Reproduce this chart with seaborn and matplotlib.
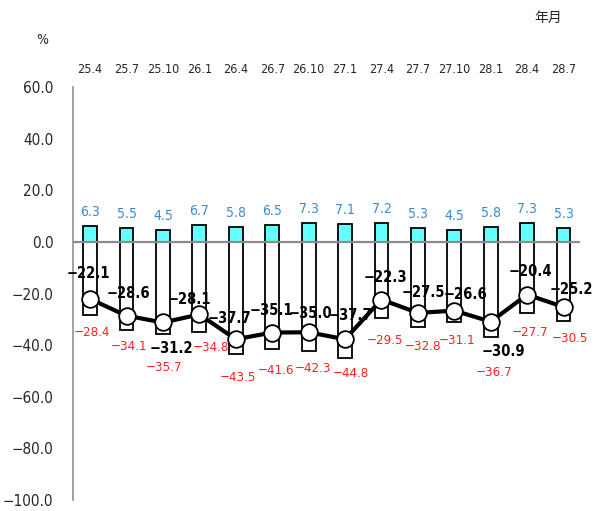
import numpy as np
import pandas as pd
import matplotlib
matplotlib.use('Agg')
import matplotlib.pyplot as plt
import seaborn as sns

# data
periods = ['25.4', '25.7', '25.10', '26.1', '26.4', '26.7', '26.10', '27.1',
           '27.4', '27.7', '27.10', '28.1', '28.4', '28.7']
plus = [6.3, 5.5, 4.5, 6.7, 5.8, 6.5, 7.3, 7.1, 7.2, 5.3, 4.5, 5.8, 7.3, 5.3]
minus = [-28.4, -34.1, -35.7, -34.8, -43.5, -41.6, -42.3, -44.8,
         -29.5, -32.8, -31.1, -36.7, -27.7, -30.5]
net = [-22.1, -28.6, -31.2, -28.1, -37.7, -35.1, -35.0, -37.7,
       -22.3, -27.5, -26.6, -30.9, -20.4, -25.2]
y_ticks = [60, 40, 20, 0, -20, -40, -60, -80, -100]

# label offsets in pixels (dx, dy), dy positive = up
net_off = [(-2, 25), (2, 22), (8, -26), (-10, 15), (-6, 21), (-1, 22), (2, 19),
           (5, 24), (4, 22), (5, 20), (11, 16), (13, -30), (3, 23), (8, 17)]
minus_off = [(2, -17), (2, -17), (1, -33), (12, -16), (2, -23), (4, -21), (4, -17),
             (6, -16), (4, -22), (5, -20), (3, -18), (3, -36), (3, -19), (6, -18)]

df = pd.DataFrame({'period': periods, 'plus': plus, 'minus': minus, 'net': net})
x = np.arange(len(periods))

sns.set_style('white')
plt.rcParams['font.family'] = ['DejaVu Sans', 'Noto Sans CJK JP']
plt.rcParams['font.stretch'] = 'condensed'

fig = plt.figure(figsize=(5.95, 5.11), dpi=100)
ax = fig.add_axes([0.1227, 0.0215, 0.852, 0.808])

sns.barplot(data=df, x='period', y='minus', color='white', edgecolor='black',
            linewidth=1.3, width=0.38, saturation=1, ax=ax, zorder=2)
sns.barplot(data=df, x='period', y='plus', color='#66FFFF', edgecolor='black',
            linewidth=1.3, width=0.38, saturation=1, ax=ax, zorder=2)
ax.axhline(0, color='#8c8c8c', lw=1.6, zorder=3)
ax.plot(x, df['net'], color='black', lw=3, marker='o', ms=12,
        mfc='white', mec='black', mew=1.3, zorder=4)

for i in range(len(periods)):
    ax.annotate(f'{plus[i]:.1f}', (x[i], plus[i]), xytext=(0, 14),
                textcoords='offset pixels', ha='center', va='center',
                color='#3A8AD0', fontsize=10)
    ax.annotate(f'\u2212{abs(minus[i]):.1f}', (x[i], minus[i]),
                xytext=minus_off[i], textcoords='offset pixels',
                ha='center', va='center', color='#FF2020', fontsize=9.5)
    ax.annotate(f'\u2212{abs(net[i]):.1f}', (x[i], net[i]),
                xytext=net_off[i], textcoords='offset pixels',
                ha='center', va='center', color='black', fontsize=10.5,
                fontweight='bold', zorder=5)

ax.set_ylim(-100, 60)
ax.set_xlim(-0.47, 13.45)
ax.set_yticks(y_ticks)
ax.set_yticklabels([f'{v:.1f}'.replace('-', '\u2212') for v in y_ticks], fontsize=11)
ax.xaxis.tick_top()
ax.set_xticks(x)
ax.set_xticklabels(periods, fontsize=9)
ax.tick_params(axis='both', length=0)
ax.tick_params(axis='y', pad=14)
ax.tick_params(axis='x', pad=8)
ax.set_xlabel('')
ax.set_ylabel('')

for s in ['top', 'right', 'bottom']:
    ax.spines[s].set_visible(False)
ax.spines['left'].set_color('#999999')
ax.spines['left'].set_linewidth(1.3)

fig.text(42 / 595, 1 - 40 / 511, '%', ha='center', va='center', fontsize=10)
fig.text(548 / 595, 1 - 18 / 511, '年月', ha='center', va='center', fontsize=10,
         family=['Noto Sans CJK JP'])

fig.savefig('out.png', dpi=100)
